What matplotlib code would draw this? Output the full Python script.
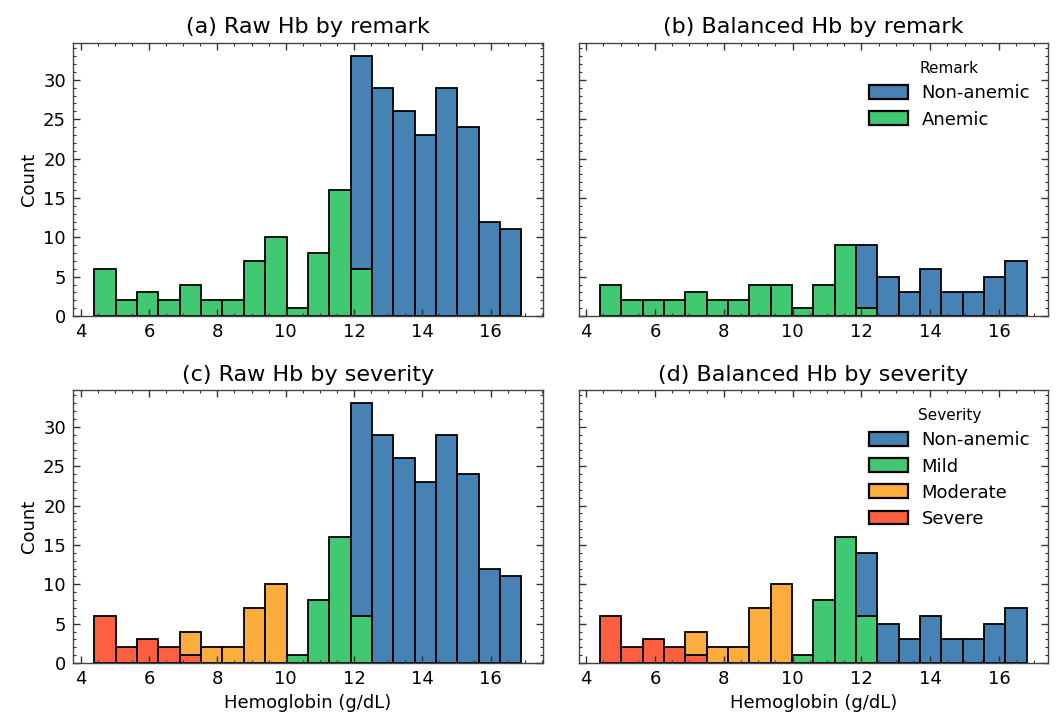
import numpy as np
import matplotlib
matplotlib.use("Agg")
import matplotlib.pyplot as plt
from matplotlib.patches import Patch
from matplotlib.ticker import MultipleLocator

# ---------------- data (counts per bin) ----------------
raw_range = (4.4, 16.9)
bal_range = (4.4, 16.8)
n_bins = 20

# (a) raw by remark
raw_anemic     = [6, 2, 3, 2, 4, 2, 2, 7, 10, 1, 8, 16, 6, 0, 0, 0, 0, 0, 0, 0]
raw_nonanemic  = [0, 0, 0, 0, 0, 0, 0, 0, 0, 0, 0, 0, 27, 29, 26, 23, 29, 24, 12, 11]
# (b) balanced by remark
bal_anemic     = [4, 2, 2, 2, 3, 2, 2, 4, 4, 1, 4, 9, 1, 0, 0, 0, 0, 0, 0, 0]
bal_nonanemic  = [0, 0, 0, 0, 0, 0, 0, 0, 0, 0, 0, 0, 8, 5, 3, 6, 3, 3, 5, 7]
# (c) raw by severity
raw_severe     = [6, 2, 3, 2, 1, 0, 0, 0, 0, 0, 0, 0, 0, 0, 0, 0, 0, 0, 0, 0]
raw_moderate   = [0, 0, 0, 0, 3, 2, 2, 7, 10, 0, 0, 0, 0, 0, 0, 0, 0, 0, 0, 0]
raw_mild       = [0, 0, 0, 0, 0, 0, 0, 0, 0, 1, 8, 16, 6, 0, 0, 0, 0, 0, 0, 0]
raw_sev_non    = [0, 0, 0, 0, 0, 0, 0, 0, 0, 0, 0, 0, 27, 29, 26, 23, 29, 24, 12, 11]
# (d) balanced by severity
bal_severe     = [6, 2, 3, 2, 1, 0, 0, 0, 0, 0, 0, 0, 0, 0, 0, 0, 0, 0, 0, 0]
bal_moderate   = [0, 0, 0, 0, 3, 2, 2, 7, 10, 0, 0, 0, 0, 0, 0, 0, 0, 0, 0, 0]
bal_mild       = [0, 0, 0, 0, 0, 0, 0, 0, 0, 1, 8, 16, 6, 0, 0, 0, 0, 0, 0, 0]
bal_sev_non    = [0, 0, 0, 0, 0, 0, 0, 0, 0, 0, 0, 0, 8, 5, 3, 6, 3, 3, 5, 7]

remark_labels = ["Non-anemic", "Anemic"]
severity_labels = ["Non-anemic", "Mild", "Moderate", "Severe"]
titles = ["(a) Raw Hb by remark", "(b) Balanced Hb by remark",
          "(c) Raw Hb by severity", "(d) Balanced Hb by severity"]

C_NON = "#4682b4"
C_MILD = "#40c872"
C_MOD = "#fdad3e"
C_SEV = "#fe5f40"

plt.rcParams["font.family"] = ["DejaVu Sans"]

fig = plt.figure(figsize=(10.58, 7.2), dpi=100)
L1, R1, L2, R2 = 0.069, 0.513, 0.547, 0.9905
T1, B1, T2, B2 = 0.940, 0.561, 0.458, 0.079
ax_a = fig.add_axes([L1, B1, R1 - L1, T1 - B1])
ax_b = fig.add_axes([L2, B1, R2 - L2, T1 - B1], sharey=ax_a)
ax_c = fig.add_axes([L1, B2, R1 - L1, T2 - B2])
ax_d = fig.add_axes([L2, B2, R2 - L2, T2 - B2], sharey=ax_c)


def stacked(ax, rng, layers):
    """layers: list of (counts, color) bottom to top"""
    edges = np.linspace(rng[0], rng[1], n_bins + 1)
    width = np.diff(edges)
    bottom = np.zeros(n_bins)
    for counts, color in layers:
        c = np.asarray(counts, dtype=float)
        m = c > 0
        ax.bar(edges[:-1][m], c[m], width=width[m], bottom=bottom[m], align="edge",
               color=color, edgecolor="black", linewidth=1.3)
        bottom += c


stacked(ax_a, raw_range, [(raw_anemic, C_MILD), (raw_nonanemic, C_NON)])
stacked(ax_b, bal_range, [(bal_anemic, C_MILD), (bal_nonanemic, C_NON)])
stacked(ax_c, raw_range, [(raw_severe, C_SEV), (raw_moderate, C_MOD),
                          (raw_mild, C_MILD), (raw_sev_non, C_NON)])
stacked(ax_d, bal_range, [(bal_severe, C_SEV), (bal_moderate, C_MOD),
                          (bal_mild, C_MILD), (bal_sev_non, C_NON)])

for ax, t in zip([ax_a, ax_b, ax_c, ax_d], titles):
    ax.set_title(t, fontsize=16, pad=7)
    ax.tick_params(which="both", direction="in", top=True, right=True,
                   labelsize=13, color="#333333")
    ax.tick_params(which="major", length=5, width=1.0, pad=5)
    ax.tick_params(which="minor", length=2.5, width=0.8)
    ax.xaxis.set_major_locator(MultipleLocator(2))
    ax.xaxis.set_minor_locator(MultipleLocator(0.5))
    ax.yaxis.set_major_locator(MultipleLocator(5))
    ax.yaxis.set_minor_locator(MultipleLocator(1))
    for s in ax.spines.values():
        s.set_color("#444444")
        s.set_linewidth(1.0)

ax_a.set_ylim(0, 34.65)
ax_c.set_ylim(0, 34.65)
ax_a.set_ylabel("Count", fontsize=13)
ax_c.set_ylabel("Count", fontsize=13)
ax_c.set_xlabel("Hemoglobin (g/dL)", fontsize=13)
ax_d.set_xlabel("Hemoglobin (g/dL)", fontsize=13)
ax_b.tick_params(labelleft=False)
ax_d.tick_params(labelleft=False)

leg_kw = dict(loc="upper right", frameon=False, fontsize=13, title_fontsize=11,
              handlelength=2.15, handleheight=0.8, labelspacing=0.45,
              handletextpad=0.75, borderaxespad=0.6)

h_rem = [Patch(facecolor=C_NON, edgecolor="black", linewidth=1.6),
         Patch(facecolor=C_MILD, edgecolor="black", linewidth=1.6)]
ax_b.legend(h_rem, remark_labels, title="Remark", **leg_kw)

h_sev = [Patch(facecolor=c, edgecolor="black", linewidth=1.6)
         for c in [C_NON, C_MILD, C_MOD, C_SEV]]
ax_d.legend(h_sev, severity_labels, title="Severity", **leg_kw)

fig.savefig("out.png", dpi=100)
